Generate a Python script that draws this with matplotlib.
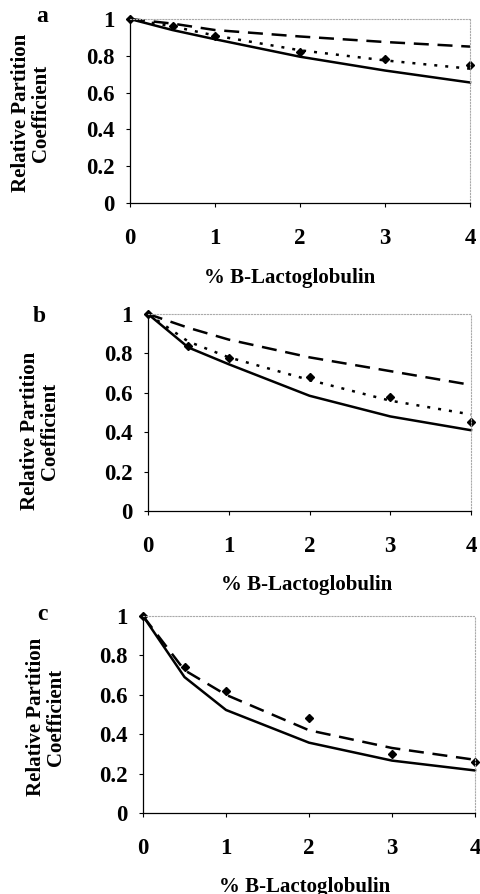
import matplotlib
matplotlib.use("Agg")
import matplotlib.pyplot as plt

plt.rcParams['font.family'] = ['Liberation Serif', 'DejaVu Serif']
plt.rcParams['font.weight'] = 'bold'

# % B-Lactoglobulin
x_line = [0, 0.5, 1, 2, 3, 4]
x_pts = [0, 0.5, 1, 2, 3, 4]

# panel a
a_solid = [1.0, 0.94, 0.89, 0.795, 0.72, 0.655]
a_dashed = [1.0, 0.975, 0.94, 0.905, 0.875, 0.85]
a_dotted = [1.0, 0.96, 0.91, 0.83, 0.775, 0.73]
a_points = [1.0, 0.96, 0.91, 0.82, 0.78, 0.75]

# panel b
b_solid = [1.0, 0.83, 0.745, 0.585, 0.48, 0.41]
b_dashed = [1.0, 0.93, 0.87, 0.78, 0.71, 0.64]
b_dotted = [1.0, 0.86, 0.78, 0.665, 0.56, 0.49]
b_points = [1.0, 0.84, 0.775, 0.68, 0.58, 0.45]

# panel c
c_solid = [1.0, 0.69, 0.523, 0.357, 0.266, 0.216]
c_dashed = [1.0, 0.725, 0.60, 0.42, 0.33, 0.27]
c_points = [1.0, 0.74, 0.62, 0.48, 0.30, 0.26]

y_ticks = [0, 0.2, 0.4, 0.6, 0.8, 1]
y_labels = ['0', '0.2', '0.4', '0.6', '0.8', '1']
x_ticks = [0, 1, 2, 3, 4]

W, H = 481, 894
fig = plt.figure(figsize=(W / 100, H / 100), dpi=100)


def px_axes(left, top, right, bottom):
    return fig.add_axes([left / W, 1 - bottom / H, (right - left) / W, (bottom - top) / H])


panels = [
    # (box, letter, letter pos, ylabel pos, xlabel pos, solid, dashed, dotted, points)
    ((130, 19, 470, 203), 'a', (42, 17), (31, 113), (290, 278), a_solid, a_dashed, a_dotted, a_points),
    ((148, 314, 471, 511), 'b', (39, 317), (40, 431), (307, 585), b_solid, b_dashed, b_dotted, b_points),
    ((143, 616, 475, 813), 'c', (42, 615), (46, 717), (305, 887), c_solid, c_dashed, None, c_points),
]

for box, letter, lpos, ypos, xpos, solid, dashed, dotted, points in panels:
    ax = px_axes(*box)
    ax.plot(x_line, solid, color='black', linewidth=1.8, linestyle='-')
    ax.plot(x_line, dashed, color='black', linewidth=1.8, linestyle=(0, (6, 3.5)))
    if dotted is not None:
        ax.plot(x_line, dotted, color='black', linewidth=1.8, linestyle=(0, (1.2, 3.2)))
    ax.plot(x_pts, points, linestyle='none', marker='D', markersize=4.5, color='black')

    ax.set_xlim(0, 4)
    ax.set_ylim(0, 1)
    ax.set_xticks(x_ticks)
    ax.set_yticks(y_ticks)
    ax.set_yticklabels(y_labels)
    ax.tick_params(direction='out', length=3, width=0.8, labelsize=16.5)
    ax.tick_params(axis='x', pad=15)
    ax.tick_params(axis='y', pad=8)
    for lab in ax.get_xticklabels() + ax.get_yticklabels():
        lab.set_fontweight('bold')
    for side in ['top', 'right']:
        ax.spines[side].set_color('#aaaaaa')
        ax.spines[side].set_linestyle(':')
        ax.spines[side].set_linewidth(0.8)
    for side in ['left', 'bottom']:
        ax.spines[side].set_linewidth(0.9)
    for line in ax.get_lines():
        line.set_clip_on(False)

    fig.text(lpos[0] / W, 1 - lpos[1] / H, letter, fontsize=17, fontweight='bold',
             ha='center', va='center')
    fig.text(ypos[0] / W, 1 - ypos[1] / H, 'Relative Partition\nCoefficient', rotation=90,
             fontsize=15, fontweight='bold', ha='center', va='center', multialignment='center',
             linespacing=1.05)
    fig.text(xpos[0] / W, 1 - xpos[1] / H, '% B-Lactoglobulin', fontsize=15, fontweight='bold',
             ha='center', va='center')

fig.savefig('out.png', dpi=100)
